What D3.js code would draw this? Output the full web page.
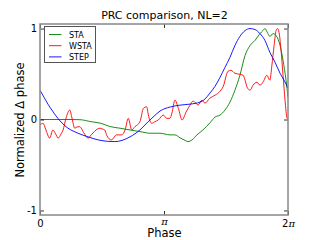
<!DOCTYPE html>
<html>
<head>
<meta charset="utf-8">
<script src="https://cdn.jsdelivr.net/npm/d3@7"></script>
<style>
  body { margin: 0; background: #fff; }
  text { font-family: "DejaVu Sans", sans-serif; }
</style>
</head>
<body>
<svg id="chart" width="320" height="240"></svg>
<script>
// phase is given as a fraction of the cycle (0 .. 1 = 0 .. 2pi)
const stepPhase = [0, 0.016, 0.032, 0.048, 0.065, 0.081, 0.097, 0.113, 0.133, 0.153, 0.194, 0.234, 0.274, 0.302, 0.331, 0.363, 0.403, 0.435, 0.456, 0.484, 0.524, 0.565, 0.605, 0.645, 0.665, 0.685, 0.706, 0.726, 0.746, 0.766, 0.786, 0.806, 0.827, 0.847, 0.867, 0.887, 0.907, 0.927, 0.948, 0.968, 0.984, 1];
const stepValue = [0.322, 0.246, 0.169, 0.104, 0.038, -0.016, -0.06, -0.096, -0.126, -0.151, -0.191, -0.224, -0.24, -0.243, -0.23, -0.191, -0.115, -0.027, 0.027, 0.093, 0.137, 0.158, 0.169, 0.191, 0.224, 0.29, 0.366, 0.464, 0.574, 0.683, 0.814, 0.913, 0.978, 1.0, 0.989, 0.945, 0.869, 0.738, 0.628, 0.508, 0.432, 0.344];

const staPhase = [0, 0.04, 0.081, 0.121, 0.161, 0.206, 0.246, 0.282, 0.323, 0.363, 0.403, 0.444, 0.484, 0.524, 0.544, 0.565, 0.585, 0.597, 0.613, 0.633, 0.657, 0.685, 0.706, 0.726, 0.746, 0.766, 0.786, 0.806, 0.827, 0.847, 0.867, 0.887, 0.899, 0.907, 0.919, 0.927, 0.94, 0.952, 0.968, 0.98, 0.992, 1];
const staValue = [0, 0, 0, 0, -0.002, -0.024, -0.042, -0.077, -0.096, -0.115, -0.133, -0.151, -0.151, -0.169, -0.169, -0.202, -0.23, -0.243, -0.224, -0.169, -0.115, -0.038, 0.027, 0.049, 0.104, 0.191, 0.322, 0.486, 0.705, 0.814, 0.869, 0.945, 0.978, 1.0, 0.945, 0.913, 0.945, 0.923, 0.814, 0.65, 0.432, 0.246];

const wstaPhase = [0, 0.012, 0.024, 0.039, 0.052, 0.063, 0.073, 0.085, 0.093, 0.105, 0.12, 0.129, 0.14, 0.149, 0.16, 0.177, 0.194, 0.206, 0.214, 0.226, 0.241, 0.25, 0.261, 0.27, 0.288, 0.309, 0.329, 0.343, 0.356, 0.37, 0.383, 0.403, 0.417, 0.43, 0.437, 0.45, 0.464, 0.477, 0.497, 0.511, 0.524, 0.532, 0.544, 0.558, 0.573, 0.589, 0.605, 0.617, 0.629, 0.637, 0.653, 0.665, 0.685, 0.706, 0.726, 0.742, 0.75, 0.758, 0.77, 0.786, 0.806, 0.819, 0.827, 0.835, 0.847, 0.859, 0.875, 0.887, 0.899, 0.915, 0.927, 0.935, 0.944, 0.952, 0.958, 0.964, 0.972, 0.98, 0.988, 0.996, 1];
const wstaValue = [-0.06, -0.042, -0.115, -0.205, -0.115, -0.158, -0.205, -0.158, -0.115, 0.016, 0.104, 0.016, -0.096, -0.082, -0.079, -0.148, -0.205, -0.169, -0.148, -0.115, -0.096, -0.104, -0.115, -0.18, -0.224, -0.169, -0.169, -0.115, 0.013, -0.115, -0.079, -0.024, 0.122, 0.14, 0.049, -0.042, -0.024, -0.005, 0.049, 0.013, 0.013, 0.071, 0.213, 0.122, -0.005, 0.082, 0.158, 0.202, 0.18, 0.158, 0.213, 0.18, 0.235, 0.268, 0.311, 0.388, 0.475, 0.53, 0.541, 0.508, 0.497, 0.486, 0.432, 0.355, 0.322, 0.377, 0.41, 0.377, 0.41, 0.486, 0.432, 0.596, 0.814, 0.978, 1.0, 0.956, 0.76, 0.486, 0.213, 0.016, 0.005];

const seriesNames = ['STA', 'WSTA', 'STEP'];
const seriesColors = ['#008000', '#ff0000', '#0000ff'];
const xTicks = [0, 0.5, 1];
const xTickLabels = ['0', 'π', '2π'];
const yTicks = [-1, 0, 1];
const yTickLabels = ['-1', '0', '1'];

const svg = d3.select('#chart');
const pl = 40, pr = 288, pt = 24, pb = 215;

const x = d3.scaleLinear().domain([0, 1]).range([pl, pr]);
const y = d3.scaleLinear().domain([-1.05, 1.05]).range([pb, pt]);

const series = [
  { name: seriesNames[0], color: seriesColors[0], xs: staPhase, ys: staValue },
  { name: seriesNames[1], color: seriesColors[1], xs: wstaPhase, ys: wstaValue },
  { name: seriesNames[2], color: seriesColors[2], xs: stepPhase, ys: stepValue },
];

const line = d3.line()
  .x(d => x(d[0]))
  .y(d => y(d[1]))
  .curve(d3.curveMonotoneX);

svg.append('defs').append('clipPath').attr('id', 'clip')
  .append('rect').attr('x', pl).attr('y', pt).attr('width', pr - pl).attr('height', pb - pt);

const plot = svg.append('g').attr('clip-path', 'url(#clip)');
series.forEach(s => {
  plot.append('path')
    .datum(s.xs.map((p, i) => [p, s.ys[i]]))
    .attr('fill', 'none')
    .attr('stroke', s.color)
    .attr('stroke-width', 0.9)
    .attr('d', line);
});

// axes, ticks pointing inward
function styleAxis(g) {
  g.select('.domain').remove();
  g.selectAll('.tick line').attr('stroke', '#000').attr('stroke-width', 0.8);
  g.selectAll('.tick text').attr('fill', '#000').attr('font-size', 10)
    .attr('font-family', '"DejaVu Sans", sans-serif');
}

svg.append('g').attr('transform', `translate(0,${pb})`)
  .call(d3.axisBottom(x).tickValues(xTicks).tickSizeInner(-4).tickSizeOuter(0).tickPadding(5)
    .tickFormat((d, i) => xTickLabels[i]))
  .call(styleAxis)
  .call(g => g.selectAll('.tick text').each(function (d, i) {
    const t = d3.select(this);
    const label = xTickLabels[i];
    if (label.includes('π')) {
      t.text(null);
      const pre = label.replace('π', '');
      if (pre) t.append('tspan').text(pre);
      t.append('tspan').attr('font-family', '"DejaVu Serif", serif').attr('font-style', 'italic').text('π');
      // a lone pi has no ascender, so it sits higher, as in mathtext
      if (!pre) t.attr('dy', '0.45em');
    }
  }));

svg.append('g').attr('transform', `translate(0,${pt})`)
  .call(d3.axisTop(x).tickValues(xTicks).tickSizeInner(-4).tickSizeOuter(0).tickFormat(''))
  .call(styleAxis);

svg.append('g').attr('transform', `translate(${pl},0)`)
  .call(d3.axisLeft(y).tickValues(yTicks).tickSizeInner(-4).tickSizeOuter(0).tickPadding(3)
    .tickFormat((d, i) => yTickLabels[i]))
  .call(styleAxis);

svg.append('g').attr('transform', `translate(${pr},0)`)
  .call(d3.axisRight(y).tickValues(yTicks).tickSizeInner(-4).tickSizeOuter(0).tickFormat(''))
  .call(styleAxis);

svg.append('rect')
  .attr('x', pl).attr('y', pt).attr('width', pr - pl).attr('height', pb - pt)
  .attr('fill', 'none').attr('stroke', '#888').attr('stroke-width', 1.5);

// legend
const legend = svg.append('g').attr('transform', 'translate(44.5,26.5)');
legend.append('rect').attr('width', 51).attr('height', 36)
  .attr('fill', '#fff').attr('stroke', '#555').attr('stroke-width', 1);
series.forEach((s, i) => {
  const ly = 8 + i * 11.2;
  legend.append('line').attr('x1', 4.5).attr('x2', 17).attr('y1', ly).attr('y2', ly)
    .attr('stroke', s.color).attr('stroke-width', 0.9);
  legend.append('text').attr('x', 24.5).attr('y', ly + 3).attr('font-size', 8).text(s.name);
});

// labels
svg.append('text').attr('x', 164.5).attr('y', 18.5).attr('text-anchor', 'middle')
  .attr('font-size', 11).text('PRC comparison, NL=2');
svg.append('text').attr('x', 164.5).attr('y', 237).attr('text-anchor', 'middle')
  .attr('font-size', 11.5).text('Phase');
svg.append('text').attr('transform', 'translate(23.5,120) rotate(-90)').attr('text-anchor', 'middle')
  .attr('font-size', 11.5).text('Normalized Δ phase');
</script>
</body>
</html>
